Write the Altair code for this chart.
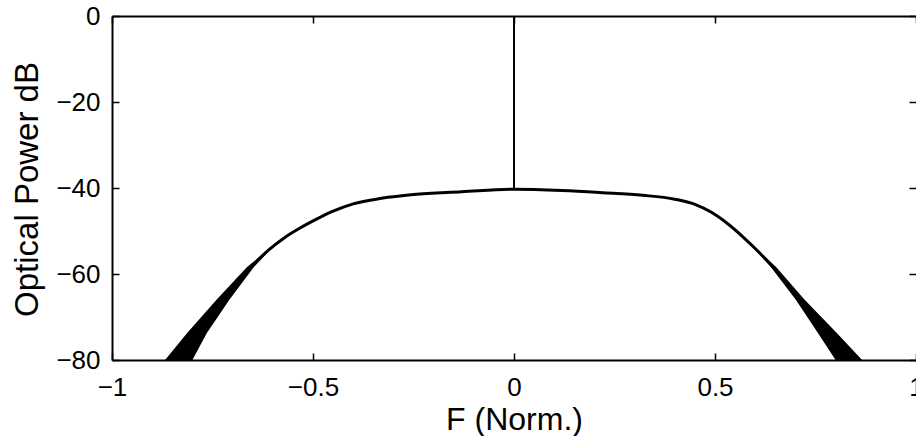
import altair as alt
import pandas as pd

# Main spectrum trace (F normalised, optical power dB)
line_f = [-0.835, -0.79, -0.74, -0.69, -0.65, -0.61, -0.57, -0.53, -0.49, -0.45,
          -0.40, -0.33, -0.25, -0.13, 0.0, 0.12, 0.22, 0.32, 0.40, 0.45,
          0.49, 0.53, 0.57, 0.61, 0.65, 0.70, 0.75, 0.79, 0.832]
line_p = [-80.0, -74.4, -68.1, -62.4, -58.0, -54.4, -51.5, -49.2, -47.2, -45.4,
          -43.7, -42.4, -41.5, -40.9, -40.3, -40.6, -41.1, -41.7, -42.6, -43.8,
          -45.6, -48.2, -51.4, -55.0, -59.0, -64.8, -70.8, -75.4, -80.0]

# Noise bands on the skirts (edges at given power levels)
band_p = [-80.0, -73.7, -66.0, -58.4, -54.0, -52.0]
left_band_x1 = [-0.868, -0.813, -0.740, -0.664, -0.607, -0.577]
left_band_x2 = [-0.800, -0.764, -0.708, -0.647, -0.603, -0.577]
right_band_x1 = [0.800, 0.756, 0.701, 0.639, 0.597, 0.577]
right_band_x2 = [0.866, 0.803, 0.723, 0.652, 0.602, 0.577]

# Carrier spike
spike_f = [0.0]
spike_top = [0.0]
spike_bottom = [-40.3]

x_ticks = [-1, -0.5, 0, 0.5, 1]
y_ticks = [-80, -60, -40, -20, 0]

W, H = 804, 344
FONT = "Liberation Sans"

line_df = pd.DataFrame({"f": line_f, "p": line_p})
lb_df = pd.DataFrame({"p": band_p, "x1": left_band_x1, "x2": left_band_x2})
rb_df = pd.DataFrame({"p": band_p, "x1": right_band_x1, "x2": right_band_x2})
spike_df = pd.DataFrame({"f": spike_f, "p": spike_top, "p2": spike_bottom})

xs = alt.Scale(domain=[-1, 1], nice=False, zero=False)
ys = alt.Scale(domain=[-80, 0], nice=False, zero=False)


def tick_axis(orient, offset, values, domain=False):
    return alt.Axis(orient=orient, offset=offset, values=values, labels=False,
                    ticks=True, tickSize=7, tickWidth=1.5, tickColor="black",
                    domain=domain, domainColor="black", domainWidth=2,
                    grid=False, title=None)


main_x = alt.Axis(orient="bottom", values=x_ticks, format="~g", ticks=False, tickSize=0,
                  grid=False, domain=True, domainColor="black", domainWidth=2,
                  labelFont=FONT, labelFontSize=26, labelColor="black", labelPadding=14,
                  labelFlush=False, labelOverlap=False,
                  title="F (Norm.)", titleFont=FONT, titleFontSize=32,
                  titleFontWeight="normal", titleColor="black",
                  titleBaseline="alphabetic", titleY=69)
main_y = alt.Axis(orient="left", values=y_ticks, format="d", ticks=False, tickSize=0,
                  grid=False, domain=True, domainColor="black", domainWidth=2,
                  labelFont=FONT, labelFontSize=26, labelColor="black", labelPadding=12,
                  labelFlush=False, labelOverlap=False,
                  title="Optical Power dB", titleFont=FONT, titleFontSize=33,
                  titleFontWeight="normal", titleColor="black",
                  titleBaseline="alphabetic", titleAlign="center",
                  titleX=-75, titleY=173)

line = alt.Chart(line_df).mark_line(color="black", strokeWidth=3, interpolate="monotone").encode(
    x=alt.X("f:Q", scale=xs, axis=main_x),
    y=alt.Y("p:Q", scale=ys, axis=main_y),
)

spike = alt.Chart(spike_df).mark_rule(color="black", strokeWidth=2).encode(
    x=alt.X("f:Q", scale=xs, axis=tick_axis("top", -H, x_ticks)),
    y=alt.Y("p:Q", scale=ys, axis=tick_axis("right", -W, y_ticks)),
    y2="p2:Q",
)

left_band = alt.Chart(lb_df).mark_area(color="black", orient="horizontal").encode(
    y=alt.Y("p:Q", scale=ys, axis=tick_axis("left", -W, y_ticks)),
    x=alt.X("x1:Q", scale=xs, axis=tick_axis("bottom", -H, x_ticks, domain=True)),
    x2="x2:Q",
)

right_band = alt.Chart(rb_df).mark_area(color="black", orient="horizontal").encode(
    y=alt.Y("p:Q", scale=ys, axis=None),
    x=alt.X("x1:Q", scale=xs, axis=None),
    x2="x2:Q",
)

chart = alt.layer(left_band, right_band, line, spike).resolve_axis(
    x="independent", y="independent"
).properties(
    width=W, height=H,
    autosize=alt.AutoSizeParams(type="none"),
    padding={"left": 112, "top": 16, "right": 0, "bottom": 76},
    background="white",
).configure_view(stroke=None)

chart.save("out.html", embed_options={"renderer": "svg", "actions": False})
